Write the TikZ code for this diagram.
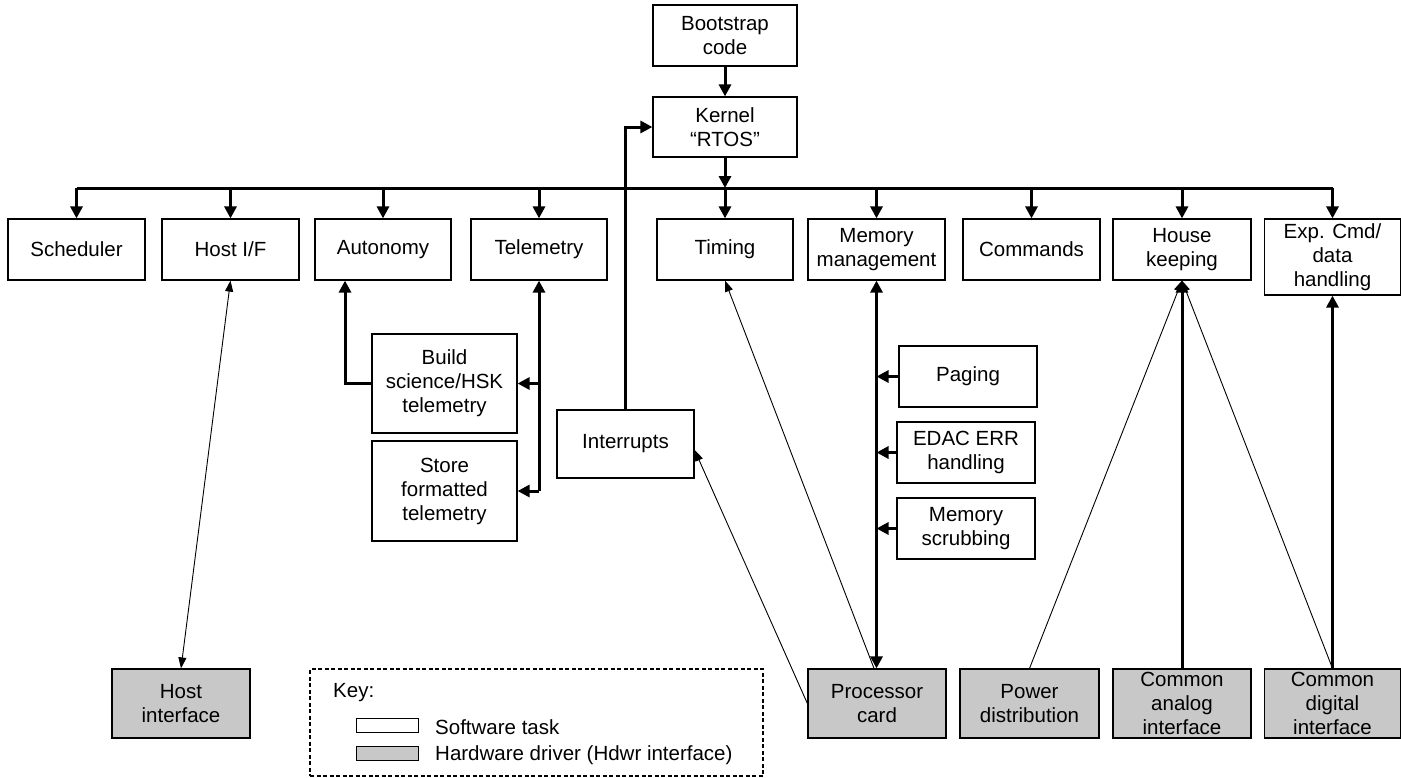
\documentclass[tikz,border=0pt]{standalone}
\usepackage{fontspec}
\setmainfont{Liberation Sans}
\usetikzlibrary{arrows.meta}
\definecolor{hwfill}{RGB}{200,200,200}
\begin{document}
\begin{tikzpicture}[x=1pt,y=-1pt,
  font=\fontsize{20.5}{24}\selectfont,
  box/.style={draw, line width=1.2pt, fill=white, align=center, inner sep=0pt,
              minimum width=137pt, minimum height=61pt},
  hw/.style={box, fill=hwfill, minimum height=69pt, minimum width=138pt},
  boldarr/.style={line width=3pt, -{Triangle[length=12pt,width=12pt]}},
  boldline/.style={line width=3pt},
  thinarr/.style={line width=0.9pt, -{Triangle[length=11pt,width=8pt]}},
  thinboth/.style={line width=0.9pt, {Triangle[length=11pt,width=8pt]}-{Triangle[length=11pt,width=8pt]}},
  keybox/.style={draw, line width=2pt, dash pattern=on 4pt off 2.5pt},
  swatch/.style={draw, line width=1pt, minimum width=62pt, minimum height=14pt, inner sep=0pt}
]
\useasboundingbox (0,0) rectangle (1401,777);

% top of the hierarchy
\node[box, minimum width=144pt] (boot) at (725,35.5) {Bootstrap\\code};
\node[box, minimum width=144pt, minimum height=60pt] (kernel) at (725,127) {Kernel\\“RTOS”};

% task row
\node[box] (sched) at (76.5,249.5) {Scheduler};
\node[box] (hostf) at (230.5,249.5) {Host I/F};
\node[box, minimum width=136pt] (auto) at (383,249.5) {Autonomy};
\node[box, minimum width=136pt] (telem) at (539,249.5) {Telemetry};
\node[box, minimum width=136pt] (timing) at (725,249.5) {Timing};
\node[box] (mem) at (876.5,249.5) {Memory\\management};
\node[box] (cmds) at (1031.5,249.5) {Commands};
\node[box, minimum width=138pt] (hk) at (1182,249.5) {House\\keeping};
\node[box, minimum width=136pt, minimum height=76pt] (exp) at (1332.5,257) {Exp. Cmd/\\data\\handling};

% sub-tasks
\node[box, minimum width=145pt, minimum height=99pt] (build) at (444.5,383.5) {Build\\science/HSK\\telemetry};
\node[box, minimum width=145pt, minimum height=100pt] (store) at (444.5,491) {Store\\formatted\\telemetry};
\node[box, minimum height=68pt] (intr) at (625.5,444) {Interrupts};
\node[box, minimum width=138pt] (paging) at (968,376.5) {Paging};
\node[box, minimum width=138pt] (edac) at (966,452.5) {EDAC ERR\\handling};
\node[box, minimum width=138pt] (scrub) at (966,528.5) {Memory\\scrubbing};

% hardware drivers
\node[hw] (hostif) at (181,703.5) {Host\\interface};
\node[hw] (proc) at (877,703.5) {Processor\\card};
\node[hw, minimum width=139pt] (power) at (1029.5,703.5) {Power\\distribution};
\node[hw] (analog) at (1182,703.5) {Common\\analog\\interface};
\node[hw, minimum width=136pt] (digital) at (1332.5,703.5) {Common\\digital\\interface};

% key
\node[keybox, minimum width=453pt, minimum height=107pt, inner sep=0pt] (key) at (536.5,722.5) {};
\node[anchor=west, inner sep=0pt] (keylbl) at (333,693) {Key:};
\node[swatch, fill=white] (swsw) at (387,725) {};
\node[swatch, fill=hwfill] (swhw) at (387,753.5) {};
\node[anchor=west, inner sep=0pt] (swswt) at (435,727) {Software task};
\node[anchor=west, inner sep=0pt] (swhwt) at (435,755) {Hardware driver (Hdwr interface)};

% kernel bus
\coordinate (bus) at (0,188);
\draw[boldarr] (boot) -- (kernel);
\draw[boldarr] (kernel.south) -- (kernel.south |- bus);
\draw[boldline] (sched.north |- bus) -- (exp.north |- bus);
\foreach \n in {sched,hostf,auto,telem,timing,mem,cmds,hk,exp}
  \draw[boldarr] (\n.north |- bus) -- (\n.north);

% interrupts into the kernel
\draw[boldarr] (intr.north) -- (intr.north |- kernel.west) -- (kernel.west);

% telemetry group
\draw[boldarr] (build.west) -| ([xshift=-38pt]auto.south);
\draw[boldline, {Triangle[length=12pt,width=12pt]}-] (telem.south) -- (telem.south |- store.east);
\draw[boldarr] (telem.south |- build.east) -- (build.east);
\draw[boldarr] (telem.south |- store.east) -- (store.east);

% memory management group
\draw[line width=3pt, {Triangle[length=12pt,width=12pt]}-{Triangle[length=12pt,width=12pt]}] (mem.south) -- (mem.south |- proc.north);
\draw[boldarr] (paging.west) -- (mem.south |- paging.west);
\draw[boldarr] (edac.west) -- (mem.south |- edac.west);
\draw[boldarr] (scrub.west) -- (mem.south |- scrub.west);

% hardware links
\draw[thinboth] (hostf.south) -- (hostif.north);
\draw[thinarr] ([xshift=-3pt]proc.north) -- (timing.south);
\draw[thinarr] (proc.west) -- ([yshift=-6pt]intr.east);
\draw[thinarr] (power.north) -- (hk.south);
\draw[boldarr] (analog.north) -- (hk.south);
\draw[thinarr] (digital.north) -- (hk.south);
\draw[boldarr] (digital.north) -- (exp.south);
\end{tikzpicture}
\end{document}
